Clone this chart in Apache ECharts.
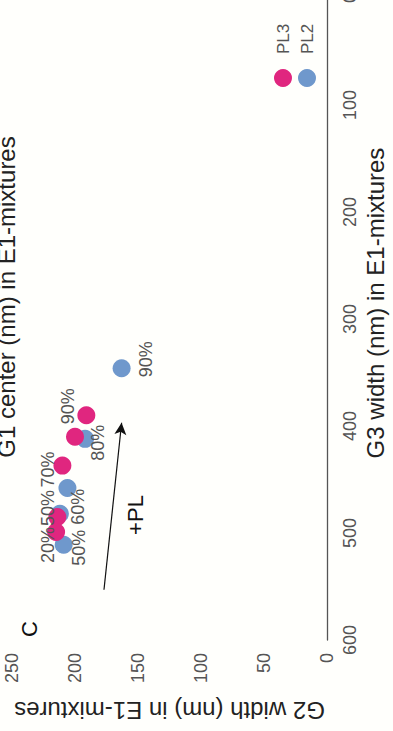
<!DOCTYPE html>
<html><head><meta charset="utf-8">
<script src="https://cdn.jsdelivr.net/npm/echarts@6/dist/echarts.min.js"></script>
<style>
html,body{margin:0;padding:0;width:393px;height:731px;overflow:hidden;background:#fffffc;}
#wrap{position:absolute;left:0;top:0;width:760px;height:393px;transform-origin:0 0;transform:translateY(731px) rotate(-90deg);}
#chart{width:760px;height:393px;}
</style></head><body>
<div id="wrap"><div id="chart"></div></div>
<script>
// ---- data ----
const seriesNames = ['PL3', 'PL2'];
const pl3G3 = [390, 410, 437, 485, 499];
const pl3G2 = [191, 200, 210, 214, 215];
const pl3Labels = ['90%', null, '70%', '50%', '20%'];
const pl2G3 = [346, 412, 458, 482, 511];
const pl2G2 = [163, 192, 206, 212, 209];
const pl2Labels = ['90%', '80%', null, '60%', '50%'];
const xAxisName = 'G3 width (nm) in E1-mixtures';
const yAxisName = 'G2 width (nm) in E1-mixtures';
const titleText = 'G1 center (nm) in E1-mixtures';
const panelLetter = 'C';
const arrowText = '+PL';
const arrowFrom = [553, 177];
const arrowTo = [397, 163];

// ---- styling ----
const pink = '#E0267F';
const blue = '#6F98CC';
const pl3LabelOffsets = [[9, -18], [0, 0], [-4, -14], [9, -9], [-13, -8]];
const pl2LabelOffsets = [[9, 24], [-4, 13], [0, 0], [7, 18], [-3, 15]];

function build(g3, g2, labels, offsets) {
  return g3.map((v, i) => ({
    value: [v, g2[i]],
    label: labels[i] ? { show: true, formatter: labels[i], offset: offsets[i] } : { show: false }
  }));
}

const FF = 'Liberation Sans, Arial, sans-serif';
const chart = echarts.init(document.getElementById('chart'), null, { renderer: 'svg' });
const labelStyle = { position: 'inside', fontSize: 18, color: '#555', fontFamily: FF };
chart.setOption({
  backgroundColor: '#fffffc',
  animation: false,
  textStyle: { fontFamily: FF },
  grid: { left: 91, right: 27, top: 12, bottom: 66, containLabel: false },
  legend: {
    data: [seriesNames[0], seriesNames[1]],
    orient: 'vertical', left: 644, top: 274, itemGap: 6, padding: 0,
    itemWidth: 18, itemHeight: 18, icon: 'circle',
    textStyle: { fontSize: 17, color: '#555', padding: [0, 0, 0, 10] }
  },
  xAxis: {
    type: 'value', min: 0, max: 600, interval: 100, inverse: true,
    axisLine: { show: true, lineStyle: { color: '#555', width: 1.3 } },
    axisTick: { show: false }, splitLine: { show: false },
    axisLabel: { fontSize: 18, color: '#555', margin: 14 },
    name: xAxisName, nameLocation: 'middle', nameGap: 34,
    nameTextStyle: { fontSize: 24, color: '#222', padding: [0, 0, 0, 32] }
  },
  yAxis: {
    type: 'value', min: 0, max: 250, interval: 50,
    axisLine: { show: true, lineStyle: { color: '#555', width: 1.3 } },
    axisTick: { show: false }, splitLine: { show: false },
    axisLabel: { fontSize: 18, color: '#555', margin: 13 },
    name: yAxisName, nameLocation: 'middle', nameGap: 58, nameRotate: 90,
    nameTextStyle: { fontSize: 24, color: '#222' }
  },
  graphic: [
    { type: 'text', x: 434, y: 6, style: { text: titleText, fontSize: 24, fill: '#222', align: 'center', verticalAlign: 'middle', fontFamily: FF } },
    { type: 'text', x: 102, y: 29, style: { text: panelLetter, fontSize: 22, fill: '#111', align: 'center', verticalAlign: 'middle', fontFamily: FF } },
    { type: 'text', x: 216, y: 135, style: { text: arrowText, fontSize: 22, fill: '#111', align: 'center', verticalAlign: 'middle', fontFamily: FF } }
  ],
  series: [
    {
      name: seriesNames[1], type: 'scatter', symbolSize: 18,
      itemStyle: { color: blue, opacity: 1 },
      label: labelStyle,
      data: build(pl2G3, pl2G2, pl2Labels, pl2LabelOffsets),
      markLine: {
        silent: true, symbol: ['none', 'arrow'], symbolSize: [9, 12],
        lineStyle: { color: '#111', width: 1.2, type: 'solid' },
        label: { show: false },
        data: [[{ coord: arrowFrom }, { coord: arrowTo }]]
      }
    },
    {
      name: seriesNames[0], type: 'scatter', symbolSize: 18,
      itemStyle: { color: pink, opacity: 1 },
      label: labelStyle,
      data: build(pl3G3, pl3G2, pl3Labels, pl3LabelOffsets)
    }
  ]
});
</script>
</body></html>
